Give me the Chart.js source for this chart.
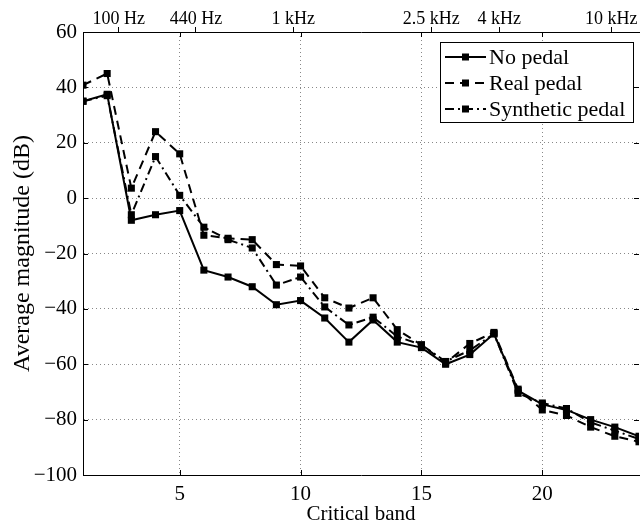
<!DOCTYPE html>
<html>
<head>
<meta charset="utf-8">
<script src="https://cdn.jsdelivr.net/npm/chart.js@4.4.1/dist/chart.umd.min.js"></script>
<style>
    html, body { margin: 0; padding: 0; background: #fff; }
    #wrap { width: 644px; height: 527px; }
</style>
</head>
<body>
<div id="wrap"><canvas id="bandChart" width="644" height="527"></canvas></div>
<script>
const bands = [1, 2, 3, 4, 5, 6, 7, 8, 9, 10, 11, 12, 13, 14, 15, 16, 17, 18, 19, 20, 21, 22, 23, 24];

const noPedal = [35, 37.5, -8, -6, -4.5, -26, -28.5, -32, -38.5, -37, -43.3, -52,
    -44, -52, -54, -60, -56.5, -49, -69.5, -74.5, -76.5, -80, -82.7, -86];
const realPedal = [40.8, 45, 3.6, 24, 16, -13.4, -14.5, -15, -24, -24.5, -36, -39.7,
    -36, -47.5, -53, -59.5, -52.5, -48.5, -69, -76.5, -78.5, -82.7, -86, -88];
const syntheticPedal = [35, 37, -6, 15, 1, -10.5, -15, -18, -31.4, -28.5, -39.3, -45.8,
    -43, -50, -53, -59, -55, -49, -70.5, -74, -76, -81, -84, -87];

const seriesNames = ['No pedal', 'Real pedal', 'Synthetic pedal'];

const bandTicks = [5, 10, 15, 20];
const magTicks = [-100, -80, -60, -40, -20, 0, 20, 40, 60];
const freqTickPos = [2.48, 5.67, 9.7, 15.41, 18.22, 22.85];
const freqTickLabels = ['100 Hz', '440 Hz', '1 kHz', '2.5 kHz', '4 kHz', '10 kHz'];

const serif = '"Liberation Serif", "DejaVu Serif", serif';
Chart.defaults.font.family = serif;
Chart.defaults.font.size = 21;
Chart.defaults.color = '#000';

const dashes = [[], [9, 6], [9, 4, 2, 4]];

function toPoints(values) {
    return bands.map((b, i) => ({ x: b, y: values[i] }));
}

/* inward tick marks like matlab */
const innerTicks = {
    id: 'innerTicks',
    afterDraw(chart) {
        const { ctx, chartArea: a, scales } = chart;
        ctx.save();
        ctx.strokeStyle = '#000';
        ctx.lineWidth = 1;
        ctx.beginPath();
        bandTicks.forEach(v => {
            const x = Math.round(scales.x.getPixelForValue(v)) + 0.5;
            ctx.moveTo(x, a.bottom); ctx.lineTo(x, a.bottom - 5);
            ctx.moveTo(x, a.top); ctx.lineTo(x, a.top + 5);
        });
        magTicks.forEach(v => {
            const y = Math.round(scales.y.getPixelForValue(v)) + 0.5;
            ctx.moveTo(a.left, y); ctx.lineTo(a.left + 5, y);
            ctx.moveTo(a.right, y); ctx.lineTo(a.right - 5, y);
        });
        ctx.stroke();
        ctx.restore();
    }
};

/* legend box inside plot, top right */
const boxLegend = {
    id: 'boxLegend',
    afterDraw(chart) {
        const ctx = chart.ctx;
        const left = 440.5, top = 42.5, w = 193, h = 80;
        ctx.save();
        ctx.fillStyle = '#fff';
        ctx.fillRect(left, top, w, h);
        ctx.strokeStyle = '#000';
        ctx.lineWidth = 1;
        ctx.strokeRect(left, top, w, h);
        ctx.font = '22px ' + serif;
        ctx.textBaseline = 'middle';
        ctx.fillStyle = '#000';
        chart.data.datasets.forEach((ds, i) => {
            const y = 57 + i * 26;
            ctx.beginPath();
            ctx.setLineDash(ds.borderDash);
            ctx.lineWidth = ds.borderWidth;
            ctx.moveTo(445, y);
            ctx.lineTo(486, y);
            ctx.stroke();
            ctx.setLineDash([]);
            ctx.fillRect(462, y - 3.5, 7, 7);
            ctx.fillText(ds.label, 489, y + 1);
        });
        ctx.restore();
    }
};

const bandCtx = document.getElementById('bandChart');

new Chart(bandCtx, {
    type: 'line',

    plugins: [innerTicks, boxLegend],

    data: {
        datasets: [noPedal, realPedal, syntheticPedal].map((vals, i) => ({
            label: seriesNames[i],
            data: toPoints(vals),
            borderColor: '#000',
            backgroundColor: '#000',
            borderWidth: 2,
            borderDash: dashes[i],
            pointStyle: 'rect',
            pointRadius: 5,
            pointBorderWidth: 0,
            tension: 0,
            xAxisID: 'x',
            yAxisID: 'y'
        }))
    },

    options: {
        responsive: false,
        animation: false,
        layout: { padding: 0 },

        plugins: {
            legend: { display: false },
            tooltip: { enabled: false }
        },

        scales: {
            x: {
                type: 'linear',
                position: 'bottom',
                min: 1,
                max: 24,
                afterBuildTicks: scale => {
                    scale.ticks = bandTicks.map(v => ({ value: v }));
                },
                afterFit: scale => { scale.height = 52; },
                ticks: { padding: 7, maxRotation: 0, autoSkip: false },
                grid: {
                    color: '#888',
                    lineWidth: 1,
                    drawTicks: false
                },
                border: { color: '#000', dash: [1, 3] },
                title: {
                    display: true,
                    text: 'Critical band',
                    padding: { top: 0, bottom: 0 }
                }
            },
            x2: {
                type: 'linear',
                position: 'top',
                min: 1,
                max: 24,
                afterBuildTicks: scale => {
                    scale.ticks = freqTickPos.map(v => ({ value: v }));
                },
                afterFit: scale => { scale.height = 32; },
                ticks: {
                    padding: -3,
                    maxRotation: 0,
                    autoSkip: false,
                    font: { size: 18 },
                    callback: (v, i) => freqTickLabels[i]
                },
                grid: {
                    drawOnChartArea: false,
                    tickLength: 5,
                    color: '#000'
                },
                border: { color: '#000' }
            },
            y: {
                min: -100,
                max: 60,
                afterBuildTicks: scale => {
                    scale.ticks = magTicks.map(v => ({ value: v }));
                },
                afterFit: scale => { scale.width = 83; },
                ticks: {
                    padding: 6,
                    callback: v => String(v).replace('-', '\u2212')
                },
                grid: {
                    color: '#888',
                    lineWidth: 1,
                    drawTicks: false
                },
                border: { color: '#000', dash: [1, 3] },
                title: {
                    display: true,
                    text: 'Average magnitude (dB)',
                    font: { size: 24 },
                    padding: { top: 8, bottom: 0 }
                }
            }
        }
    }
});
</script>
</body>
</html>
